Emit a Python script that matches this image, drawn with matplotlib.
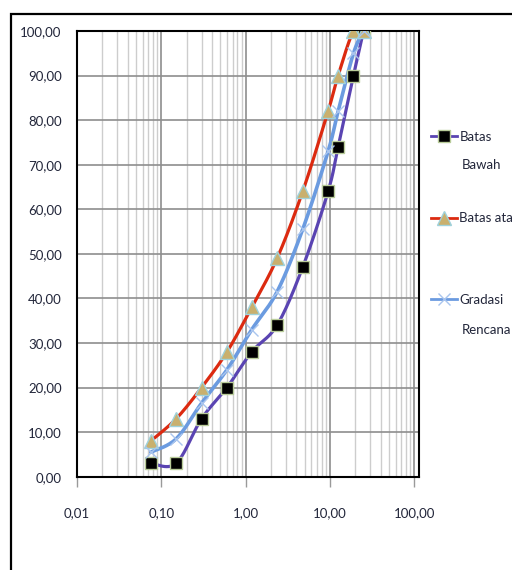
import numpy as np
import matplotlib
matplotlib.use("Agg")
import matplotlib.pyplot as plt
from matplotlib.ticker import LogLocator, FixedLocator, FuncFormatter, NullFormatter
from matplotlib.patches import Rectangle

# sieve sizes (mm) and % passing
ukuran = [0.075, 0.15, 0.3, 0.6, 1.18, 2.36, 4.75, 9.5, 12.5, 19, 25]
batas_bawah = [3, 3, 13, 20, 28, 34, 47, 64, 74, 90, 100]
batas_atas = [8, 13, 20, 28, 38, 49, 64, 82, 90, 100, 100]
gradasi = [5.5, 8.5, 16.5, 24, 33, 41.5, 55.5, 73, 82, 95, 100]

x_ticks = [0.01, 0.1, 1, 10, 100]
y_ticks = list(range(0, 101, 10))

FONT = ['Lato', 'DejaVu Sans']
TXT = '#22263a'
FS = 9.5


def smooth(xs, ys, n=30):
    # excel-like bezier smoothing in (log x, y)
    px = np.log10(xs)
    py = np.asarray(ys, float)
    m = len(px)
    ox, oy = [], []
    for i in range(m - 1):
        a = max(i - 1, 0)
        b = min(i + 2, m - 1)
        p0 = np.array([px[i], py[i]])
        p3 = np.array([px[i + 1], py[i + 1]])
        p1 = p0 + (np.array([px[i + 1], py[i + 1]]) - np.array([px[a], py[a]])) / 6
        p2 = p3 - (np.array([px[b], py[b]]) - p0) / 6
        t = np.linspace(0, 1, n)[:, None]
        pts = (1 - t) ** 3 * p0 + 3 * (1 - t) ** 2 * t * p1 + 3 * (1 - t) * t ** 2 * p2 + t ** 3 * p3
        ox.extend(pts[:, 0])
        oy.extend(pts[:, 1])
    return 10 ** np.array(ox), np.array(oy)


fig = plt.figure(figsize=(5.12, 5.70), dpi=100)
ax = fig.add_axes([77 / 512, 1 - 476.7 / 570, (418.5 - 77) / 512, (476.7 - 31) / 570])

series = [
    (batas_bawah, '#5a44b2', dict(marker='s', ms=8, mfc='black', mec='#b9cc9a', mew=1.0)),
    (batas_atas, '#dc2a10', dict(marker='^', ms=9.5, mfc='#c9b06e', mec='#9fd2dc', mew=1.0)),
    (gradasi, '#6b9be0', dict(marker='x', ms=9, mec='#a9c5ee', mew=1.0)),
]
handles = []
for vals, col, mk in series:
    sx, sy = smooth(ukuran, vals)
    ax.plot(sx, sy, color=col, lw=2.3 if col != '#6b9be0' else 2.6, solid_capstyle='round', zorder=3)
    ax.plot(ukuran, vals, ls='none', zorder=4, **mk)
    h, = ax.plot([], [], color=col, lw=2.0, **mk)
    handles.append(h)

ax.set_xscale('log')
ax.set_xlim(0.01, 100 * 10 ** 0.05)
ax.set_ylim(0, 100)
ax.xaxis.set_major_locator(FixedLocator(x_ticks))
ax.xaxis.set_minor_locator(LogLocator(base=10, subs=np.arange(2, 10)))
ax.xaxis.set_minor_formatter(NullFormatter())
ax.yaxis.set_major_locator(FixedLocator(y_ticks))
fmt = FuncFormatter(lambda v, p: f"{v:.2f}".replace('.', ','))
ax.xaxis.set_major_formatter(fmt)
ax.yaxis.set_major_formatter(fmt)

ax.grid(True, which='major', color='#8e8e8e', lw=1.2, zorder=0)
ax.grid(True, which='minor', axis='x', color='#cdcdcd', lw=1.0, zorder=0)
ax.set_axisbelow(True)
ax.tick_params(axis='x', which='major', length=7, width=1, color='#9a9a9a', pad=15, labelcolor=TXT, labelsize=FS)
ax.tick_params(axis='x', which='minor', length=0)
ax.tick_params(axis='y', length=0, pad=11, labelcolor=TXT, labelsize=FS)
for lab in ax.get_xticklabels() + ax.get_yticklabels():
    lab.set_family(FONT)
for s in ax.spines.values():
    s.set_color('black')
    s.set_linewidth(1.5)

leg = fig.legend(handles, ['Batas', 'Batas atas', 'Gradasi'], loc='upper left',
                 bbox_to_anchor=(431 / 512, 1 - 131 / 570), frameon=False,
                 borderpad=0, borderaxespad=0, handlelength=2.0, handletextpad=0.15,
                 labelspacing=5.25, prop={'family': FONT, 'size': FS})
for t in leg.get_texts():
    t.set_color(TXT)
fig.text(462 / 512, 1 - 165 / 570, 'Bawah', family=FONT, size=FS, color=TXT, va='center')
fig.text(462 / 512, 1 - 330 / 570, 'Rencana', family=FONT, size=FS, color=TXT, va='center')

fig.patches.append(Rectangle((11 / 512, -0.1), 1.2, 1 - 14 / 570 + 0.1, transform=fig.transFigure,
                             fill=False, ec='black', lw=1.6, zorder=10))

fig.savefig('out.png', dpi=100)
